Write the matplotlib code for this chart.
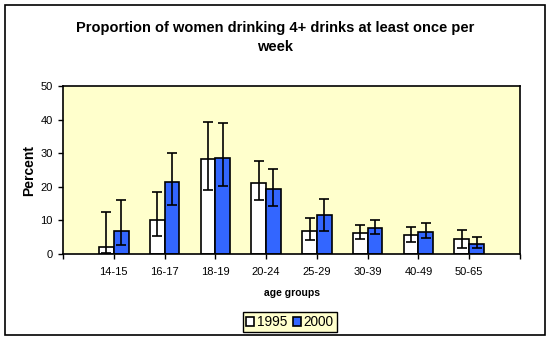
import numpy as np
import matplotlib
matplotlib.use("Agg")
from matplotlib import pyplot as plt
from matplotlib.patches import Rectangle

plt.rcParams['font.family'] = ['Liberation Sans', 'DejaVu Sans']

ageGroups = ["14-15", "16-17", "18-19", "20-24", "25-29", "30-39", "40-49", "50-65"]

# 1995 survey: estimate with lower / upper confidence limits
pct1995 = [2.0, 10.0, 28.2, 21.0, 6.8, 6.2, 5.6, 4.4]
low1995 = [0.2, 5.3, 18.9, 16.1, 4.1, 4.4, 3.5, 1.9]
high1995 = [12.4, 18.4, 39.4, 27.6, 10.6, 8.5, 7.9, 7.0]

# 2000 survey
pct2000 = [6.7, 21.3, 28.5, 19.3, 11.5, 7.6, 6.5, 2.9]
low2000 = [2.7, 14.5, 20.1, 14.2, 6.8, 5.9, 4.7, 1.7]
high2000 = [16.0, 30.0, 38.9, 25.2, 16.3, 10.2, 9.1, 5.0]


def errorRange(vals, lows, highs):
    v = np.array(vals)
    return [v - np.array(lows), np.array(highs) - v]


def makeChart():
    fig = plt.figure(figsize=(5.5, 3.42), dpi=100)
    # outer chart border
    fig.patches.append(Rectangle((5 / 550, 7 / 342), 540 / 550, 330 / 342,
                                 transform=fig.transFigure, fill=False,
                                 edgecolor="black", linewidth=1.2))
    ax = fig.add_axes([63 / 550, 88 / 342, 457 / 550, 168 / 342])
    ax.set_facecolor("#FFFFCC")

    x = np.arange(1, len(ageGroups) + 1)
    w = 0.29
    errStyle = dict(ecolor="black", elinewidth=1.2, capsize=3.5, capthick=1.2)
    ax.bar(x - w / 2, pct1995, w, color="white", edgecolor="black", linewidth=1.2,
           yerr=errorRange(pct1995, low1995, high1995), error_kw=errStyle,
           label="1995", zorder=2)
    ax.bar(x + w / 2, pct2000, w, color="#3366FF", edgecolor="black", linewidth=1.2,
           yerr=errorRange(pct2000, low2000, high2000), error_kw=errStyle,
           label="2000", zorder=2)

    ax.set_xlim(0, len(ageGroups) + 1)
    ax.set_ylim(0, 50)
    ax.set_xticks(np.arange(0, len(ageGroups) + 2))
    ax.set_xticklabels([""] + ageGroups + [""], fontsize=8)
    ax.set_yticks(np.arange(0, 51, 10))
    ax.tick_params(axis="both", direction="out", length=3.5, width=1, labelsize=8)
    ax.tick_params(axis="y", pad=4)
    ax.tick_params(axis="x", pad=6)
    for s in ax.spines.values():
        s.set_linewidth(1.2)

    ax.set_ylabel("Percent", fontsize=10, fontweight="bold")
    ax.yaxis.set_label_coords(-27 / 457, 0.5)
    ax.set_xlabel("age groups", fontsize=7.5, fontweight="bold", labelpad=8)
    fig.text(0.5, 1 - 37.5 / 342, "Proportion of women drinking 4+ drinks at least once per\nweek",
             ha="center", va="center", fontsize=10.5, fontweight="bold", linespacing=1.5)

    leg = ax.legend(loc="center", bbox_to_anchor=(290 / 550, 1 - 322 / 342),
                    bbox_transform=fig.transFigure, ncol=2, fontsize=9.8,
                    frameon=True, fancybox=False, handlelength=0.6, handleheight=0.6,
                    handletextpad=0.2, columnspacing=0.4, borderpad=0.22,
                    borderaxespad=0)
    leg.get_frame().set_facecolor("#FFFFCC")
    leg.get_frame().set_edgecolor("black")
    leg.get_frame().set_linewidth(1.0)
    leg.get_frame().set_alpha(1)

    fig.savefig("out.png", dpi=100)


def main():
    makeChart()


if __name__ == "__main__":
    main()
